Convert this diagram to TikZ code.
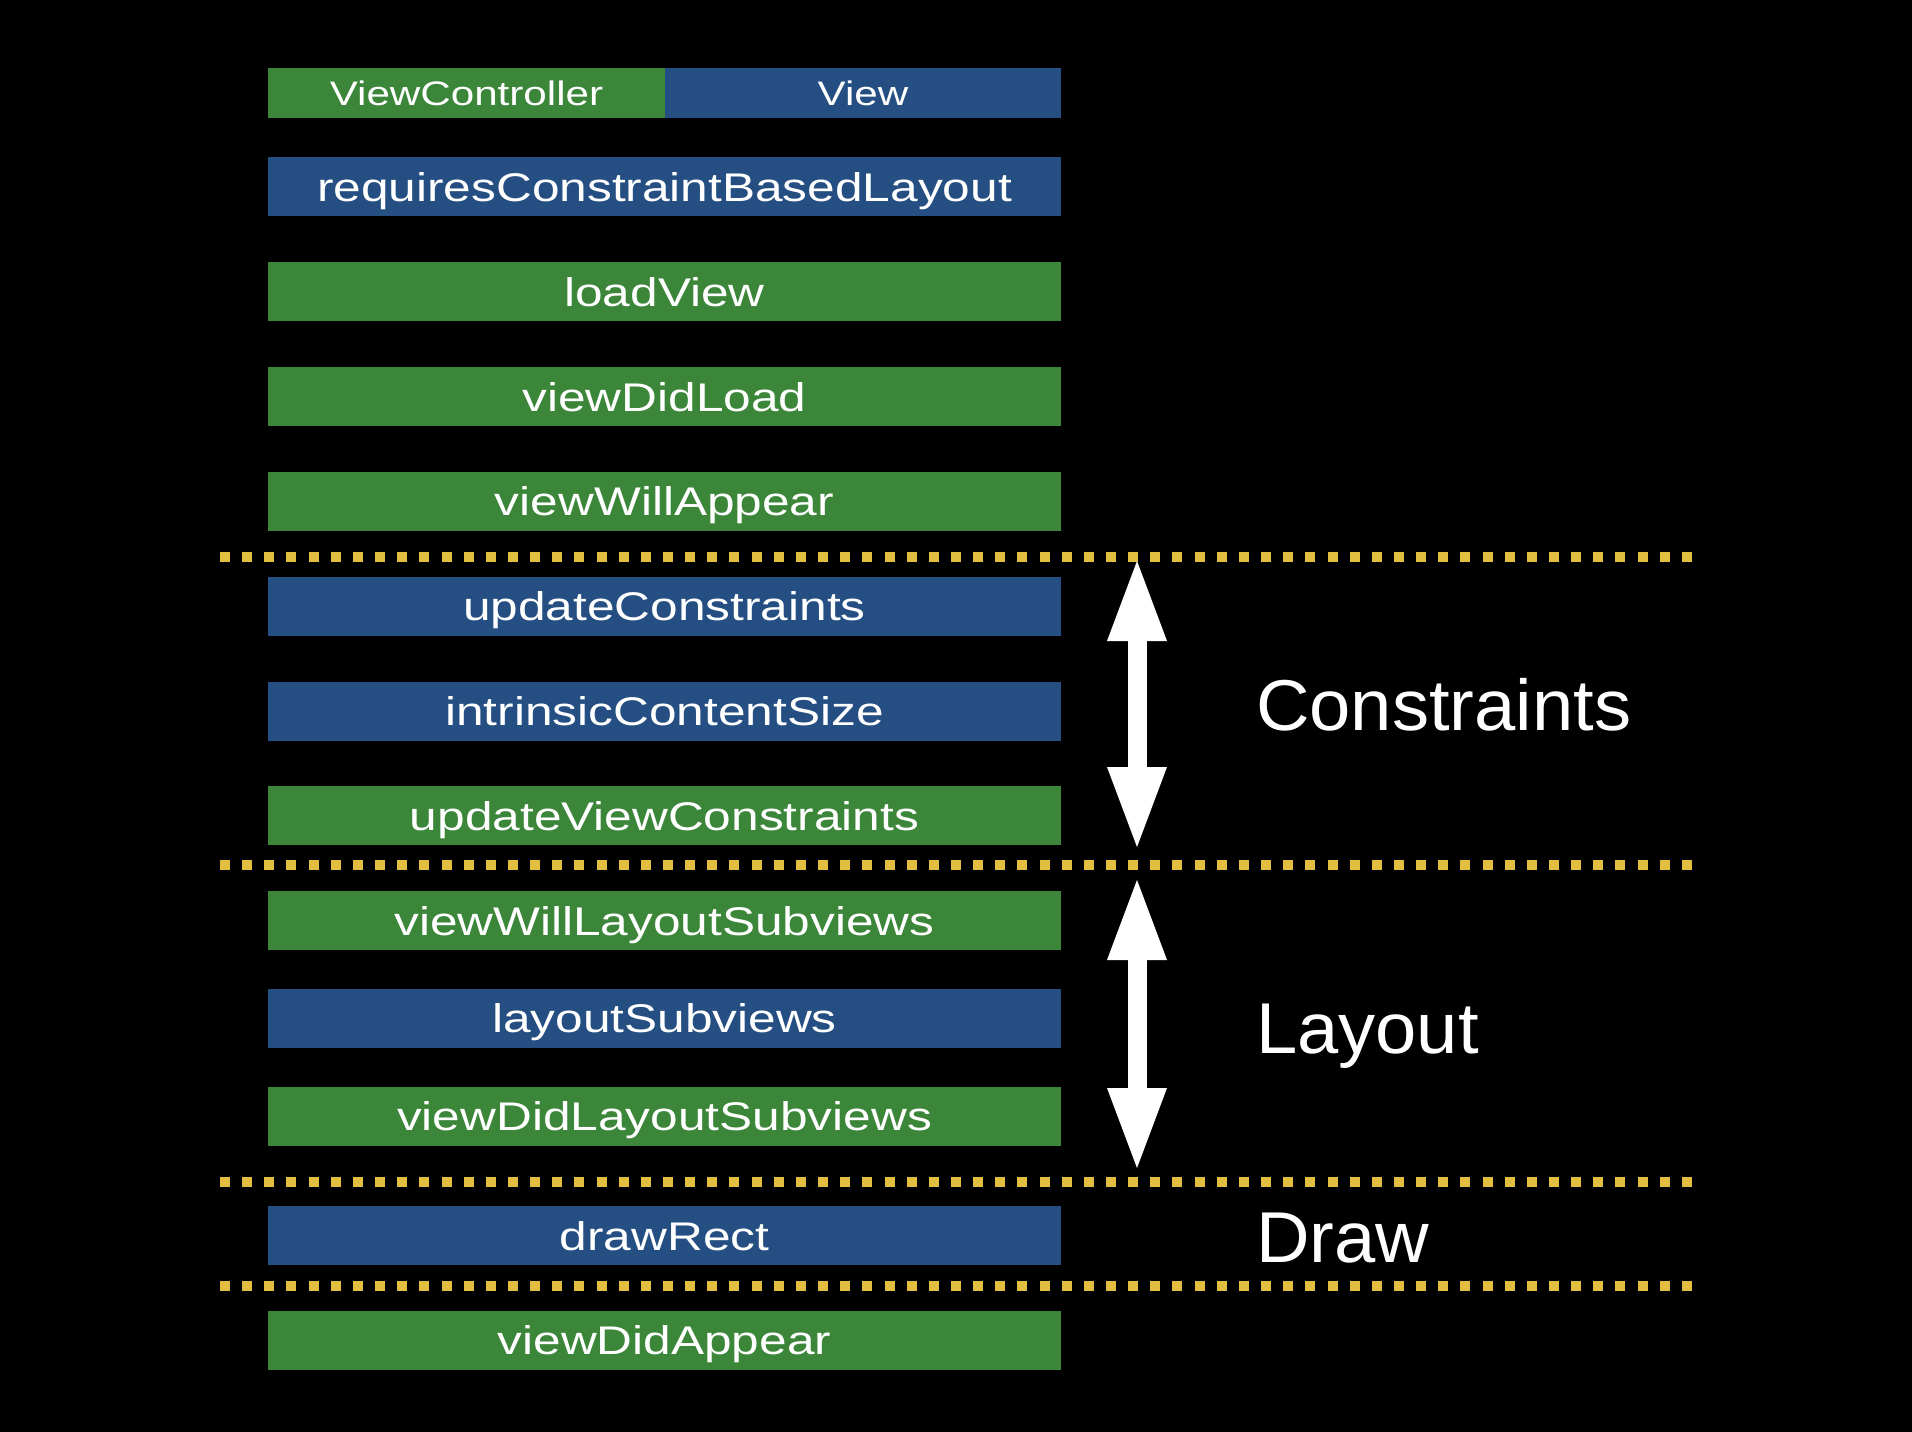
\documentclass[tikz,border=0pt]{standalone}
\usepackage{fontspec}
\usetikzlibrary{arrows.meta}
\newfontfamily\barfont[FakeStretch=1.24]{Liberation Sans}
\newfontfamily\phasefont[FakeStretch=1.03]{Liberation Sans}
\definecolor{vcgreen}{RGB}{59,134,57}
\definecolor{viewblue}{RGB}{37,79,130}
\definecolor{dotyellow}{RGB}{226,190,64}
\tikzset{
  bar/.style={minimum width=793pt, minimum height=59pt, inner sep=0pt,
    text=white, font=\barfont\fontsize{40}{48}\selectfont,
    text height=29pt, text depth=0pt},
  vcbar/.style={bar, fill=vcgreen},
  viewbar/.style={bar, fill=viewblue},
  headbar/.style={minimum width=397pt, minimum height=50pt, inner sep=0pt,
    text=white, font=\barfont\fontsize{34}{40}\selectfont,
    text height=24pt, text depth=0pt},
  dotrule/.style={dotyellow, line width=10pt, dash pattern=on 10pt off 12.15pt},
  phase/.style={anchor=west, inner sep=0pt, text=white,
    font=\phasefont\fontsize{72}{80}\selectfont, text height=52pt, text depth=0pt},
  bothways/.style={white, line width=19pt,
    {Triangle[length=80pt,width=60pt,line width=0pt]}-{Triangle[length=80pt,width=60pt,line width=0pt]}}
}
\begin{document}
\begin{tikzpicture}[x=1pt, y=-1pt]
    \fill[black] (0,0) rectangle (1912,1432);
    \useasboundingbox (0,0) rectangle (1912,1432);
    % header
    \node[headbar, fill=vcgreen] (hvc) at (466.5,93) {ViewController};
    \node[headbar, fill=viewblue, minimum width=396pt] (hview) at (863,93) {View};
    % calls
    \node[viewbar] (req) at (664.5,186.5) {requiresConstraintBasedLayout};
    \node[vcbar] (load) at (664.5,291.5) {loadView};
    \node[vcbar] (didload) at (664.5,396.5) {viewDidLoad};
    \node[vcbar] (willappear) at (664.5,501) {viewWillAppear};
    \node[viewbar] (updcons) at (664.5,606) {updateConstraints};
    \node[viewbar] (intrinsic) at (664.5,711) {intrinsicContentSize};
    \node[vcbar] (updviewcons) at (664.5,815.5) {updateViewConstraints};
    \node[vcbar] (willlayout) at (664.5,920.5) {viewWillLayoutSubviews};
    \node[viewbar] (layout) at (664.5,1018) {layoutSubviews};
    \node[vcbar] (didlayout) at (664.5,1116) {viewDidLayoutSubviews};
    \node[viewbar] (draw) at (664.5,1235.5) {drawRect};
    \node[vcbar] (didappear) at (664.5,1340) {viewDidAppear};
    % separators
    \draw[dotrule] (220,557) -- (1693,557);
    \draw[dotrule] (220,865) -- (1693,865);
    \draw[dotrule] (220,1182) -- (1693,1182);
    \draw[dotrule] (220,1286) -- (1693,1286);
    % phases
    \coordinate (constop) at (1137,561);
    \coordinate (consbot) at (1137,847);
    \coordinate (laytop) at (1137,880);
    \coordinate (laybot) at (1137,1168);
    \draw[bothways] (constop) -- (consbot);
    \draw[bothways] (laytop) -- (laybot);
    \node[phase] (pcons) at (1256,704) {Constraints};
    \node[phase] (playout) at (1256,1027) {Layout};
    \node[phase] (pdraw) at (1256,1236) {Draw};
\end{tikzpicture}
\end{document}
